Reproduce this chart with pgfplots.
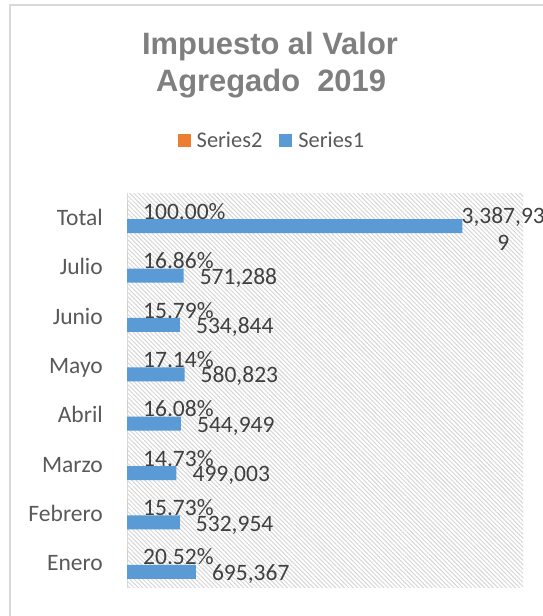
\documentclass[border=0pt]{standalone}
\usepackage{fontspec}
\setmainfont{Carlito}
\newfontfamily\arialfont{Liberation Sans}
\usepackage{pgfplots}
\pgfplotsset{compat=1.18}
\usetikzlibrary{patterns.meta}
\definecolor{sone}{HTML}{5B9BD5}
\definecolor{stwo}{HTML}{ED7D31}
\definecolor{tickc}{HTML}{595959}
\definecolor{labc}{HTML}{404040}
\definecolor{ttlc}{HTML}{7F7F7F}
\definecolor{brdc}{HTML}{D9D9D9}
\definecolor{hatchc}{HTML}{D6D6D6}
\protected\def\totallab{\hspace*{-17bp}\raisebox{-15.5bp}[15bp][0pt]{\begin{tabular}[b]{@{}c@{}}3,387,93\\9\end{tabular}}}
\begin{document}
\begin{tikzpicture}
\useasboundingbox (0,0) rectangle (543bp,616bp);
\draw[brdc, line width=1.5bp] (10bp,0) -- (10bp,611bp) -- (543bp,611bp);
\node[font=\arialfont\bfseries\fontsize{31}{36}\selectfont, text=ttlc, anchor=base, inner sep=0pt] at (270bp,561bp) {Impuesto al Valor};
\node[font=\arialfont\bfseries\fontsize{31}{36}\selectfont, text=ttlc, anchor=base, inner sep=0pt] at (271bp,524.3bp) {Agregado\ \ 2019};
\begin{axis}[
  at={(127bp,28bp)}, anchor=south west, scale only axis,
  width=396bp, height=395bp,
  xmin=0, xmax=4000000, ymin=-0.5, ymax=7.5,
  xbar, bar width=14bp,
  axis x line=none, axis y line*=left,
  y axis line style={draw=brdc, line width=1bp},
  xtick=\empty, ytick={0,1,2,3,4,5,6,7},
  yticklabels={Enero,Febrero,Marzo,Abril,Mayo~,Junio,Julio,Total},
  major tick length=0pt,
  yticklabel style={font=\fontsize{23.6}{27}\selectfont, text=tickc, inner sep=0pt, xshift=-24bp, text height=15.2bp, text depth=0pt},
  axis background/.style={pattern={Lines[angle=-45,distance=3.1bp,line width=1bp]}, pattern color=hatchc},
  clip=false,
  point meta=explicit symbolic,
  nodes near coords={\pgfplotspointmeta},
  nodes near coords align=horizontal,
  every node near coord/.append style={font=\fontsize{23.6}{27}\selectfont, text=labc, inner sep=0pt, anchor=west, xshift=16bp, text height=15.2bp, text depth=0pt},
  legend columns=2,
  legend style={draw=none, fill=none, at={(axis description cs:0.371,1.134)}, anchor=center,
    font=\fontsize{22.5}{27}\selectfont, text=tickc,
    /tikz/every even column/.append style={column sep=11bp},
    nodes={inner xsep=6bp, inner ysep=0pt, text height=14.5bp, text depth=0pt}},
  legend image code/.code={\fill[#1] (0bp,-6.5bp) rectangle (13bp,6.5bp);},
]
\addplot[fill=stwo, draw=none, bar shift=8.5bp, every node near coord/.append style={yshift=-2.5bp}] coordinates {
  (0.2052,0) [20.52\%]
  (0.1573,1) [15.73\%]
  (0.1473,2) [14.73\%]
  (0.1608,3) [16.08\%]
  (0.1714,4) [17.14\%]
  (0.1579,5) [15.79\%]
  (0.1686,6) [16.86\%]
  (1.0000,7) [100.00\%]
};
\addplot[fill=sone, draw=none, bar shift=-8.5bp, every node near coord/.append style={yshift=-1bp}] coordinates {
  (695367,0) [695,367]
  (532954,1) [532,954]
  (499003,2) [499,003]
  (544949,3) [544,949]
  (580823,4) [580,823]
  (534844,5) [534,844]
  (571288,6) [571,288]
  (3387939,7) [\totallab]
};
\legend{Series2,Series1}
\end{axis}
\end{tikzpicture}
\end{document}
